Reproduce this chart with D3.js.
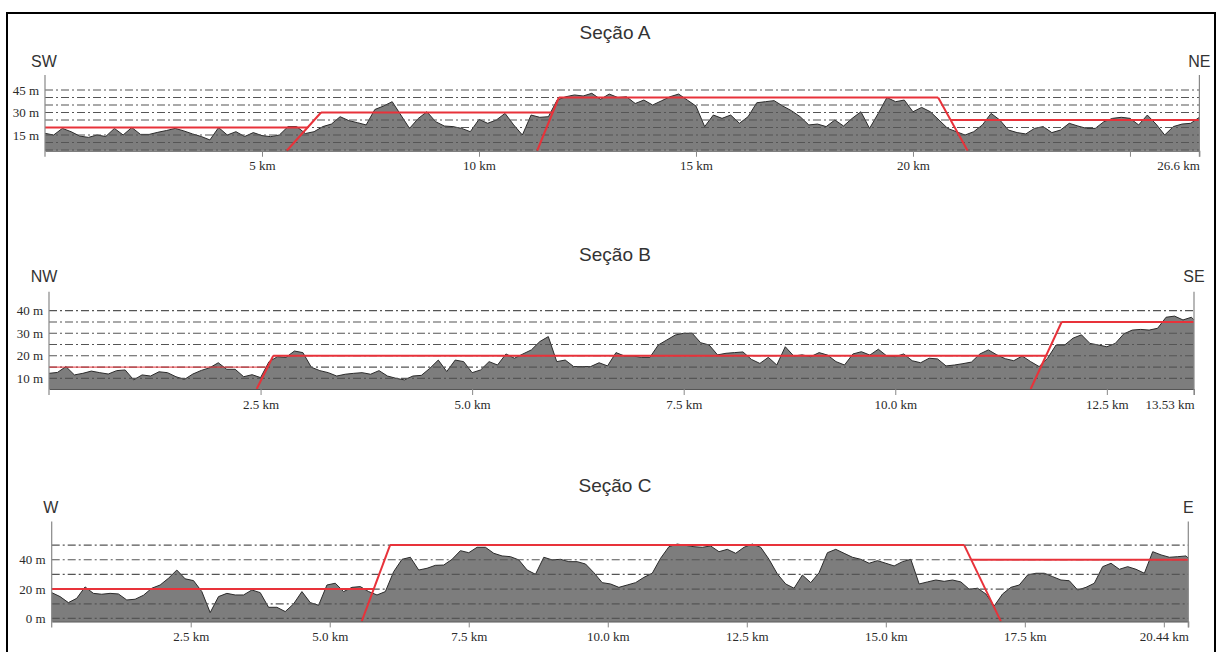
<!DOCTYPE html>
<html><head><meta charset="utf-8">
<script src="https://cdn.jsdelivr.net/npm/d3@7/dist/d3.min.js"></script>
<style>body{margin:0;background:#fff}svg{display:block}
.serif{font-family:"Liberation Serif","Times New Roman",serif !important;font-size:13px !important;fill:#2a2a2a}
</style>
</head><body><svg id="c" width="1217" height="652"></svg>
<script>
// ---------- Section A (SW - NE), samples every 0.2 km, last = 26.6 km ----------
const titleA = "Seção A";
const dirA = ["SW", "NE"];
const stepA = 0.2, endA = 26.6;
const elevA = [
  16.1, 15, 19.4, 17.2, 14.3, 13.4, 15, 14, 19.4, 15,
  20, 15.4, 15.4, 16.8, 18, 19.4, 17.7, 15.7, 14, 11.7,
  20, 15, 17.2, 14, 16.6, 14.6, 13.9, 15, 20.6, 20.6,
  16, 17.2, 20.6, 22.3, 27.2, 24.6, 23.2, 21.7, 32, 34.3,
  37.2, 28.3, 19.4, 26, 30.5, 23.9, 21, 20.6, 19.4, 17.2,
  25.4, 22.8, 25, 29.4, 21.7, 15, 28.3, 26.8, 27.2, 38.3,
  40.5, 41.7, 41, 42.8, 38.8, 42.3, 40, 40.5, 36, 38.3,
  35, 37.7, 40.5, 42.3, 38.3, 34.3, 20.6, 28.3, 26.1, 28.3,
  22.8, 27.2, 36.5, 37.2, 37.9, 34.3, 31.2, 27.2, 21.7, 22.3,
  20.6, 25, 21, 26.1, 30.5, 19.4, 29.4, 40, 37.2, 38.3,
  30.5, 33.4, 30.5, 25, 19.4, 17.2, 15, 17.2, 21.7, 29.4,
  25, 18.3, 16.6, 15.7, 19.4, 20.6, 16.6, 18.3, 22.8, 21,
  19.4, 19.4, 23.9, 26.1, 26.8, 26.1, 21.7, 28.3, 22.3, 15,
  20.6, 22.3, 22.8, 26.8
];
const yDomainA = [4.5, 55];
const gridA = [5, 10, 15, 20, 25, 30, 35, 40, 45];
const yTicksA = [15, 30, 45];
const xTicksA = [5, 10, 15, 20, 25];
const xTickLabelsA = ["5 km", "10 km", "15 km", "20 km", ""];
const endLabelA = "26.6 km";
// red line segments [[km, m], [km, m]]
const faultA = [
  [[0, 20], [6.05, 20]],
  [[5.57, 4.5], [6.36, 30]],
  [[6.36, 30], [11.70, 30]],
  [[11.34, 4.5], [11.84, 40]],
  [[11.84, 40], [20.58, 40]],
  [[20.58, 40], [21.26, 4.5]],
  [[20.87, 25], [26.6, 25]]
];

// ---------- Section B (NW - SE), samples every 0.1 km, last = 13.53 km ----------
const titleB = "Seção B";
const dirB = ["NW", "SE"];
const stepB = 0.1, endB = 13.53;
const elevB = [
  12.2, 12.6, 15.2, 11.5, 12.2, 13.2, 12.5, 11.9, 13.4, 13.7,
  9.3, 11.5, 11, 12.9, 12.5, 10.7, 9.5, 11.9, 13.5, 14.7,
  16.9, 14, 14, 10.7, 11.6, 10.3, 17.4, 19.6, 19.3, 22.1,
  21.4, 14.9, 13.4, 12.5, 11, 11.8, 12.2, 12.5, 11.8, 13.4,
  11, 10, 9.3, 11, 11.3, 14.4, 18.1, 13, 18.1, 17.4,
  12.5, 13.7, 17.4, 15.9, 20.8, 18.9, 20.8, 22.6, 26.3, 28.5,
  17.4, 18.1, 15.2, 15.2, 15.2, 16.9, 15.5, 21.4, 19.9, 19.9,
  19.3, 19.3, 24.8, 27, 29.2, 30, 30, 25.8, 24.8, 20.4,
  21.1, 21.4, 21.7, 18.4, 16.6, 19.3, 15.9, 24, 19.9, 20.4,
  19.6, 21.4, 20.3, 17.4, 15.9, 20.8, 21.8, 20.3, 22.9, 19.9,
  19.6, 20.8, 17.8, 16.9, 18.9, 18.6, 15.5, 15.9, 16.5, 17.2,
  20.8, 22.6, 20.4, 18.7, 17.8, 19.9, 17.4, 15.2, 18.9, 24.8,
  24.7, 27.8, 29.3, 25.5, 24.8, 24, 25.5, 29.7, 31.4, 31.7,
  31.4, 32.2, 37.1, 37.6, 35.9, 37.1, 35.9
];
const yDomainB = [5.25, 48.44];
const gridB = [10, 15, 20, 25, 30, 35, 40];
const yTicksB = [10, 20, 30, 40];
const xTicksB = [2.5, 5, 7.5, 10, 12.5];
const xTickLabelsB = ["2.5 km", "5.0 km", "7.5 km", "10.0 km", "12.5 km"];
const endLabelB = "13.53 km";
const faultB = [
  [[0, 15], [2.584, 15]],
  [[2.454, 5.25], [2.65, 20]],
  [[2.65, 20], [11.78, 20]],
  [[11.60, 5.25], [11.966, 35]],
  [[11.966, 35], [13.53, 35]]
];
const faultWidthB = [1.2, 2, 2, 2, 2];

// ---------- Section C (W - E), samples every 0.15 km, last = 20.44 km ----------
const titleC = "Seção C";
const dirC = ["W", "E"];
const stepC = 0.15, endC = 20.44;
const elevC = [
  17.6, 14.9, 10.8, 13.7, 21.5, 17.1, 16.5, 17.1, 16.7, 12.6,
  13.1, 15.8, 20.6, 22.8, 27.4, 33, 27, 25.8, 18.3, 4,
  14.9, 17.1, 16, 16, 19.4, 17.6, 7.6, 7.6, 4.7, 9.9,
  18.3, 10.8, 9, 22.8, 24, 18.3, 21.2, 21.7, 18.3, 16,
  18.3, 31.9, 40.3, 41.7, 33, 34.2, 36.2, 36.4, 40.3, 46.2,
  44.8, 48.5, 48.5, 44.4, 42.6, 42.1, 39.9, 33, 30.1, 41.7,
  39.9, 40.3, 38.7, 38.7, 37.1, 31.2, 24.4, 23.5, 21.2, 22.8,
  24.4, 28, 30.8, 41, 48.9, 50.7, 49.8, 48.9, 48.5, 49.4,
  45.5, 47.1, 44.4, 48.5, 50.7, 48.5, 40.3, 30.3, 23.5, 20.6,
  29.6, 24.4, 31.2, 44.8, 47.1, 44.4, 41.7, 40.3, 37.6, 39.4,
  37.6, 35.8, 38.7, 40.3, 23.5, 24.9, 26.2, 25.3, 26.2, 24.9,
  19.9, 20.6, 16.7, 8.5, 16.7, 21.2, 22.8, 29.6, 30.8, 30.8,
  28.5, 26.2, 25.7, 19.4, 21.2, 24, 35.3, 37.6, 33.5, 35.3,
  33.5, 30.8, 45.5, 43.3, 41.7, 42.1, 42.6, 41
];
const yDomainC = [-2, 66];
const gridC = [0, 10, 20, 30, 40, 50];
const yTicksC = [0, 20, 40];
const xTicksC = [2.5, 5, 7.5, 10, 12.5, 15, 17.5, 20];
const xTickLabelsC = ["2.5 km", "5.0 km", "7.5 km", "10.0 km", "12.5 km", "15.0 km", "17.5 km", ""];
const endLabelC = "20.44 km";
const faultC = [
  [[0, 20], [5.79, 20]],
  [[5.575, -2], [6.085, 50]],
  [[6.085, 50], [16.41, 50]],
  [[16.41, 50], [17.07, -2]],
  [[16.54, 40], [20.44, 40]]
];

// ---------- layout (pixels) ----------
const svg = d3.select("#c");
svg.append("rect").attr("width", 1217).attr("height", 652).attr("fill", "#fff");
svg.append("rect").attr("x", 7).attr("y", 13).attr("width", 1208).attr("height", 660)
  .attr("fill", "none").attr("stroke", "#000").attr("stroke-width", 2);

const RED = "#e8323a";

function drawSection(o) {
  const dist = o.elev.map((_, i) => i === o.elev.length - 1 ? o.end : +(i * o.step).toFixed(3));
  const data = o.elev.map((v, i) => ({ km: dist[i], m: v }));
  const x = d3.scaleLinear().domain([0, o.end]).range([o.x0, o.x1]);
  const y = d3.scaleLinear().domain(o.yDomain).range([o.yBottom, o.yTop]);
  const g = svg.append("g");

  // terrain
  g.append("path").datum(data)
    .attr("d", d3.area().x(d => x(d.km)).y0(o.yBottom).y1(d => y(d.m)))
    .attr("fill", "#7d7d7d");
  g.append("path").datum(data)
    .attr("d", d3.line().x(d => x(d.km)).y(d => y(d.m)))
    .attr("fill", "none").attr("stroke", "#2b2b2b").attr("stroke-width", 1);

  // gridlines
  g.selectAll(".grid").data(o.grid).join("line")
    .attr("x1", o.x0).attr("x2", o.x1)
    .attr("y1", d => y(d)).attr("y2", d => y(d))
    .attr("stroke", "#555").attr("stroke-width", 1.2)
    .attr("stroke-dasharray", "8,3,2,3");

  // red lines
  g.selectAll(".fault").data(o.fault).join("line")
    .attr("x1", d => x(d[0][0])).attr("y1", d => y(d[0][1]))
    .attr("x2", d => x(d[1][0])).attr("y2", d => y(d[1][1]))
    .attr("stroke", RED)
    .attr("stroke-width", (d, i) => o.faultWidth ? o.faultWidth[i] : 2)
    .attr("stroke-opacity", (d, i) => o.faultWidth && o.faultWidth[i] < 2 ? 0.8 : 1);

  // x axis
  const ax = d3.axisBottom(x)
    .tickValues(o.xTicks.concat([o.end]))
    .tickFormat((d, i) => i < o.xTickLabels.length ? o.xTickLabels[i] : o.endLabel)
    .tickSize(6).tickSizeOuter(0).tickPadding(4.5);
  const axG = g.append("g").attr("transform", `translate(0,${o.yBottom})`).call(ax);
  axG.attr("font-family", null).attr("font-size", null);
  axG.select(".domain").attr("stroke", "#555").attr("stroke-width", 1.2);
  axG.selectAll(".tick line").attr("stroke", "#888");
  axG.selectAll("text").attr("class", "serif");
  axG.selectAll(".tick").filter(d => d === o.end).select("text").attr("text-anchor", "end");

  // y labels
  const ay = d3.axisLeft(y).tickValues(o.yTicks).tickFormat(d => d + " m").tickSize(0).tickPadding(6);
  const ayG = g.append("g").attr("transform", `translate(${o.x0},0)`).call(ay);
  ayG.attr("font-family", null).attr("font-size", null);
  ayG.select(".domain").remove();
  ayG.selectAll("text").attr("class", "serif");

  // vertical end lines
  [o.x0, o.x1].forEach(xx => {
    g.append("line").attr("x1", xx).attr("x2", xx).attr("y1", o.yTop).attr("y2", o.yBottom + 6)
      .attr("stroke", "#888").attr("stroke-width", 1.2);
  });

  // title and direction labels
  g.append("text").attr("x", 615).attr("y", o.titleY).attr("text-anchor", "middle")
    .attr("font-family", "'Liberation Sans', Arial, sans-serif").attr("font-size", 19)
    .attr("fill", "#333").text(o.title);
  g.append("text").attr("x", o.dirLeftX).attr("y", o.dirY).attr("text-anchor", "middle")
    .attr("font-family", "'Liberation Sans', Arial, sans-serif").attr("font-size", 16)
    .attr("fill", "#333").text(o.dir[0]);
  g.append("text").attr("x", o.x1).attr("y", o.dirY).attr("text-anchor", "middle")
    .attr("font-family", "'Liberation Sans', Arial, sans-serif").attr("font-size", 16)
    .attr("fill", "#333").text(o.dir[1]);
}

drawSection({ title: titleA, dir: dirA, elev: elevA, step: stepA, end: endA, yDomain: yDomainA,
  grid: gridA, yTicks: yTicksA, xTicks: xTicksA, xTickLabels: xTickLabelsA, endLabel: endLabelA,
  fault: faultA, x0: 45, x1: 1199.4, yBottom: 150.75, yTop: 75, titleY: 38.5, dirY: 66.7, dirLeftX: 44 });
drawSection({ title: titleB, dir: dirB, elev: elevB, step: stepB, end: endB, yDomain: yDomainB,
  grid: gridB, yTicks: yTicksB, xTicks: xTicksB, xTickLabels: xTickLabelsB, endLabel: endLabelB,
  fault: faultB, faultWidth: faultWidthB, x0: 49, x1: 1194, yBottom: 389, yTop: 291.7, titleY: 260.7, dirY: 282.3, dirLeftX: 44 });
drawSection({ title: titleC, dir: dirC, elev: elevC, step: stepC, end: endC, yDomain: yDomainC,
  grid: gridC, yTicks: yTicksC, xTicks: xTicksC, xTickLabels: xTickLabelsC, endLabel: endLabelC,
  fault: faultC, x0: 51.7, x1: 1188.3, yBottom: 621.4, yTop: 521.6, titleY: 491.7, dirY: 513.3, dirLeftX: 50.8 });
</script></body></html>
